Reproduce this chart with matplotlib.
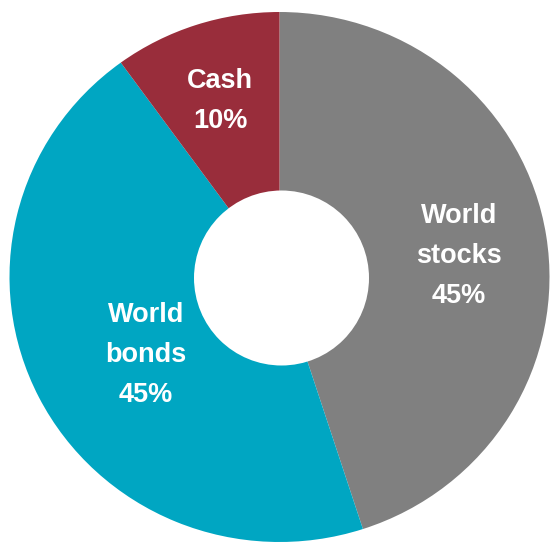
import matplotlib
matplotlib.use("Agg")
import matplotlib.pyplot as plt
from matplotlib.patches import Ellipse

# Portfolio allocation
categories = ["World\nstocks", "World\nbonds", "Cash"]
shares = [45, 45, 10]
colors = ["#808080", "#00A6C2", "#992D3B"]

W, H = 552, 543
fig = plt.figure(figsize=(W / 100, H / 100), dpi=100)
ax = fig.add_axes([0, 0, 1, 1])

# pixel geometry of the ring
cx, cy = 279.5, 277.0      # centre (pixels from top-left)
rx, ry = 270.0, 265.0      # outer radii in pixels
hx, hy, hr = 281.5, 278.0, 87.5   # hole centre and radius (pixels)

ax.pie(shares, colors=colors, startangle=90, counterclock=False, radius=1.0,
       wedgeprops=dict(linewidth=0, antialiased=True))
ax.set_aspect("auto")
ax.set_xlim(-cx / rx, (W - cx) / rx)
ax.set_ylim(-(H - cy) / ry, cy / ry)
ax.axis("off")


def px(x, y):
    return (x - cx) / rx, (cy - y) / ry


ax.add_patch(Ellipse(px(hx, hy), 2 * hr / rx, 2 * hr / ry,
                     facecolor="white", edgecolor="none", zorder=3))

# label anchors: centre x and baseline y of the first line (pixels)
anchors = [(459, 223), (146, 322), (220, 88)]
line_gap = 40

for cat, val, (x0, y0) in zip(categories, shares, anchors):
    lines = cat.split("\n") + [f"{val}%"]
    for i, line in enumerate(lines):
        tx, ty = px(x0, y0 + i * line_gap)
        ax.text(tx, ty, line, ha="center", va="baseline", color="white",
                fontsize=19.5, fontweight="bold", family="Liberation Sans",
                zorder=4)

fig.savefig("out.png", dpi=100)
